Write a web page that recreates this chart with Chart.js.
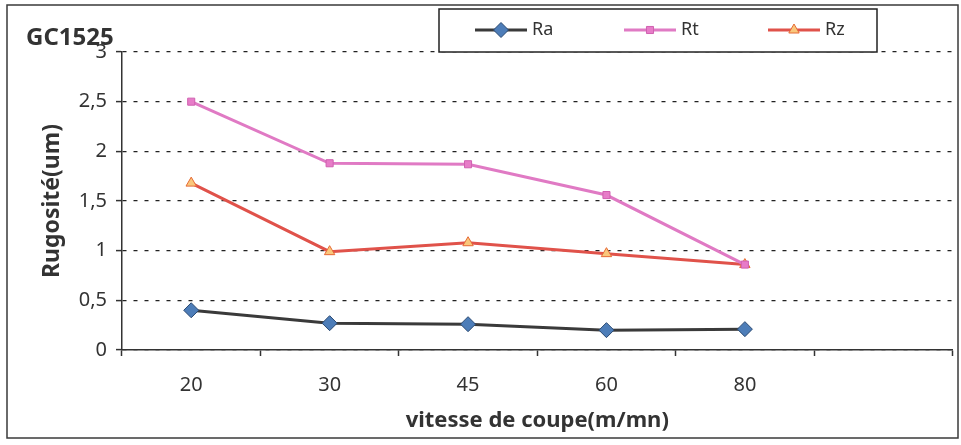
<!DOCTYPE html>
<html>
<head>
<meta charset="utf-8">
<title>GC1525</title>
<script src="https://cdn.jsdelivr.net/npm/chart.js@4.4.1/dist/chart.umd.min.js"></script>
<style>
  html, body { margin: 0; padding: 0; background: #fff; }
  #wrap { width: 961px; height: 445px; position: relative; }
</style>
</head>
<body>
<div id="wrap"><canvas id="chart1" width="961" height="445"></canvas></div>
<script>
// data
const categories = ["20", "30", "45", "60", "80", ""];
const raValues = [0.40, 0.27, 0.26, 0.20, 0.21, null];
const rtValues = [2.50, 1.88, 1.87, 1.56, 0.86, null];
const rzValues = [1.68, 0.99, 1.08, 0.97, 0.86, null];
const seriesNames = ["Ra", "Rt", "Rz"];
const chartTitle = "GC1525";
const xTitle = "vitesse de coupe(m/mn)";
const yTitle = "Rugosité(um)";

const FONT = "'Noto Sans', 'DejaVu Sans', sans-serif";
const TEXT = "#333";

// outer frame, title and boxed legend like the spreadsheet chart
const framePlugin = {
  id: "frame",
  afterDraw(chart) {
    const ctx = chart.ctx;
    ctx.save();
    ctx.strokeStyle = "#3a3a3a";
    ctx.lineWidth = 1.5;
    ctx.strokeRect(7, 5, 951, 433);

    ctx.fillStyle = TEXT;
    ctx.font = "bold 24px " + FONT;
    ctx.textBaseline = "alphabetic";
    ctx.textAlign = "left";
    ctx.fillText(chartTitle, 26, 45);

    // legend box
    ctx.fillStyle = "#fff";
    ctx.fillRect(439, 9, 438, 43);
    ctx.strokeStyle = "#222";
    ctx.lineWidth = 1.5;
    ctx.strokeRect(439, 9, 438, 43);

    const starts = [475, 624, 768];
    chart.data.datasets.forEach((ds, i) => {
      const x0 = starts[i];
      const y = 30;
      ctx.strokeStyle = ds.borderColor;
      ctx.lineWidth = ds.borderWidth;
      ctx.beginPath();
      ctx.moveTo(x0, y);
      ctx.lineTo(x0 + 52, y);
      ctx.stroke();
      ctx.fillStyle = ds.pointBackgroundColor;
      ctx.strokeStyle = ds.pointBorderColor;
      ctx.lineWidth = ds.pointBorderWidth;
      Chart.helpers.drawPoint(ctx, {
        pointStyle: ds.pointStyle,
        radius: ds.pointRadius,
        borderWidth: ds.pointBorderWidth,
        rotation: 0
      }, x0 + 26, y);
      ctx.fillStyle = TEXT;
      ctx.font = "18px " + FONT;
      ctx.textBaseline = "middle";
      ctx.fillText(ds.label, x0 + 57, y);
    });
    ctx.restore();
  }
};

const ctx1 = document.getElementById("chart1").getContext("2d");
new Chart(ctx1, {
  type: "line",
  data: {
    labels: categories,
    datasets: [
      {
        label: seriesNames[0],
        data: raValues,
        borderColor: "#3a3a3a",
        borderWidth: 3,
        pointStyle: "rectRot",
        pointRadius: 7.5,
        pointBackgroundColor: "#4d7db8",
        pointBorderColor: "#2b4a72",
        pointBorderWidth: 1,
        tension: 0
      },
      {
        label: seriesNames[1],
        data: rtValues,
        borderColor: "#e07ac4",
        borderWidth: 3,
        pointStyle: "rect",
        pointRadius: 5,
        pointBackgroundColor: "#e77cc8",
        pointBorderColor: "#d060b0",
        pointBorderWidth: 1,
        tension: 0
      },
      {
        label: seriesNames[2],
        data: rzValues,
        borderColor: "#e0524a",
        borderWidth: 3,
        pointStyle: "triangle",
        pointRadius: 6,
        pointBackgroundColor: "#f9c77c",
        pointBorderColor: "#e66a35",
        pointBorderWidth: 1,
        tension: 0
      }
    ]
  },
  options: {
    responsive: false,
    animation: false,
    layout: { padding: { top: 52, left: 7, right: 2, bottom: 7 } },
    plugins: {
      legend: { display: false },
      title: { display: false },
      tooltip: { enabled: false }
    },
    scales: {
      x: {
        offset: true,
        afterFit: (scale) => { scale.height = 88; },
        grid: {
          offset: true,
          drawOnChartArea: false,
          drawTicks: true,
          tickLength: 6,
          tickColor: "#333",
          tickWidth: 1.5
        },
        border: { color: "#333", width: 1.5 },
        ticks: {
          color: TEXT,
          font: { family: FONT, size: 20 },
          padding: 17,
          maxRotation: 0,
          autoSkip: false
        },
        title: {
          display: true,
          text: xTitle,
          color: TEXT,
          font: { family: FONT, size: 22, weight: "bold" },
          padding: { top: 0, bottom: 4 }
        }
      },
      y: {
        min: 0,
        max: 3,
        afterFit: (scale) => { scale.width = 115; },
        grid: {
          color: "#222",
          lineWidth: 1.2,
          drawTicks: true,
          tickLength: 6,
          tickColor: "#333",
          tickWidth: 1.5,
          tickBorderDash: []
        },
        border: { color: "#333", width: 1.5, dash: [4, 7] },
        ticks: {
          stepSize: 0.5,
          color: TEXT,
          font: { family: FONT, size: 20 },
          padding: 9,
          callback: (v) => String(v).replace(".", ",")
        },
        title: {
          display: true,
          text: yTitle,
          color: TEXT,
          font: { family: FONT, size: 23, weight: "bold" },
          padding: { top: 32, bottom: 0 }
        }
      }
    }
  },
  plugins: [framePlugin]
});
</script>
</body>
</html>
